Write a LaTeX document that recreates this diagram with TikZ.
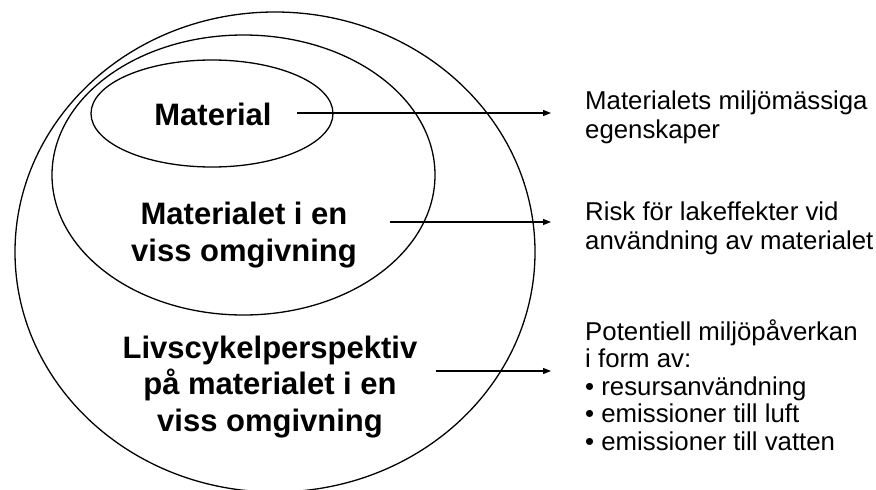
\documentclass[tikz,border=0pt]{standalone}
\usepackage{fontspec}
\setmainfont{Liberation Sans}
\usepackage{tikz}
\usetikzlibrary{shapes.geometric, arrows.meta, positioning}

\begin{document}
\begin{tikzpicture}[
    x=1pt, y=-1pt,
    ring/.style={ellipse, draw=black, line width=1.3pt, inner sep=0pt},
    level/.style={font=\fontsize{31}{36.5}\selectfont\bfseries, align=center, inner sep=0pt},
    effect/.style={font=\fontsize{25.8}{29}\selectfont, align=left, anchor=west, inner sep=0pt},
    arr/.style={-{Triangle[length=8pt, width=6pt]}, line width=1.2pt}
]
\useasboundingbox (0,0) rectangle (876,490);

% Nested ellipses (outer to inner)
\node[ring, minimum width=520pt, minimum height=480pt] (outer) at (275,252) {};
\node[ring, minimum width=383pt, minimum height=280pt] (middle) at (243.5,175) {};
\node[ring, minimum width=242pt, minimum height=107pt] (inner) at (212,113.5) {};

% Labels inside the ellipses
\node[level] (mat) at (213,114) {Material};
\node[level] (env) at (244,235) {Materialet i en\\viss omgivning};
\node[level] (life) at (270,387) {Livscykelperspektiv\\på materialet i en\\viss omgivning};

% Descriptions on the right
\node[effect] (d1) at (585,117) {Materialets miljömässiga\\egenskaper};
\node[effect] (d2) at (585,228) {Risk för lakeffekter vid\\användning av materialet};
\node[effect, font=\fontsize{25.8}{27.5}\selectfont] (d3) at (585,385)
    {Potentiell miljöpåverkan\\i form av:\\\textbullet{} resursanvändning\\\textbullet{} emissioner till luft\\\textbullet{} emissioner till vatten};

% Arrow end points
\coordinate (e1) at (551,113);
\coordinate (e2) at (551,222);
\coordinate (e3) at (551,371);

\draw[arr] ([xshift=25pt, yshift=1pt]mat.east) -- (e1);
\draw[arr] ([xshift=33pt]env.east |- e2) -- (e2);
\draw[arr] ([xshift=18pt]life.east |- e3) -- (e3);

\end{tikzpicture}
\end{document}
